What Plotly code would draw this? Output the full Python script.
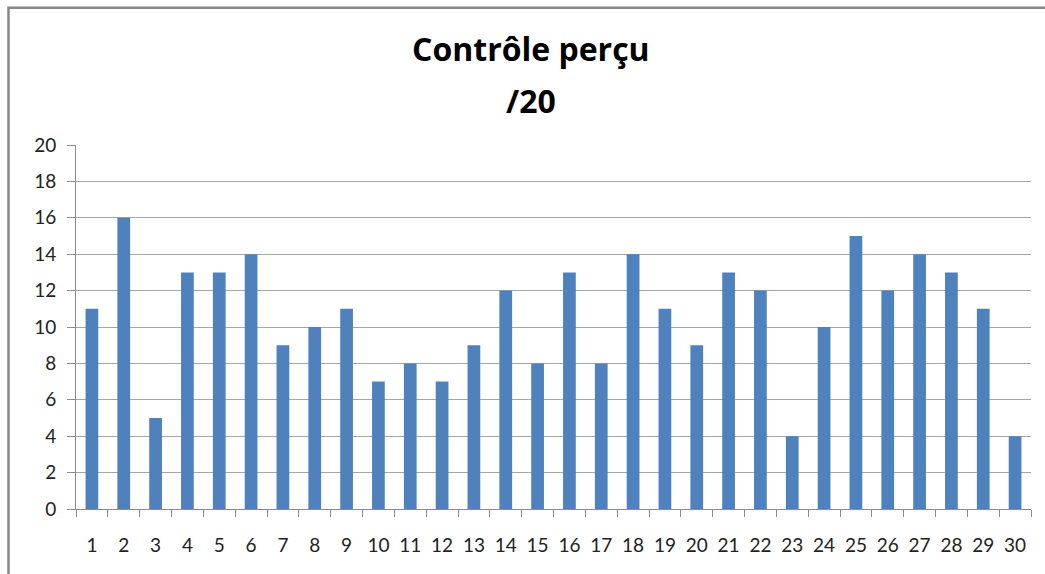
import plotly.graph_objects as go

categories = [str(i) for i in range(1, 31)]
values = [11, 16, 5, 13, 13, 14, 9, 10, 11, 7, 8, 7, 9, 12, 8, 13, 8, 14, 11, 9,
          13, 12, 4, 10, 15, 12, 14, 13, 11, 4]
y_ticks = [0, 2, 4, 6, 8, 10, 12, 14, 16, 18, 20]
title_lines = ["Contrôle perçu", "/20"]

W, H = 1045, 574
L, R, T, B = 76, 14, 145, 65
pw, ph = W - L - R, H - T - B

fig = go.Figure(go.Bar(
    x=categories, y=values,
    marker=dict(color="#4F81BD", line=dict(width=0)),
    width=0.4,
))

def px_to_paper_x(px):
    return (px - L) / pw

def px_to_paper_y(py):
    return 1 - (py - T) / ph

title_font = dict(family="Open Sans", size=32, color="black", weight="bold")
annotations = [
    dict(text=title_lines[0], x=px_to_paper_x(531), y=px_to_paper_y(48),
         xref="paper", yref="paper", xanchor="center", yanchor="middle",
         showarrow=False, font=title_font),
    dict(text=title_lines[1], x=px_to_paper_x(531), y=px_to_paper_y(100),
         xref="paper", yref="paper", xanchor="center", yanchor="middle",
         showarrow=False, font=title_font),
]

tick_font = dict(family="Lato", size=19, color="#222222")

fig.update_layout(
    width=W, height=H,
    margin=dict(l=L, r=R, t=T, b=B),
    paper_bgcolor="white", plot_bgcolor="white",
    showlegend=False,
    font=dict(family="Lato", size=19, color="#222222"),
    annotations=annotations,
    xaxis=dict(
        type="category",
        tickson="boundaries",
        ticks="outside", ticklen=7, tickcolor="#8c8c8c", tickwidth=1,
        showline=True, linecolor="#8c8c8c", linewidth=1,
        showgrid=False,
        ticklabelstandoff=19,
        tickfont=tick_font,
        range=[-0.5, 29.5],
    ),
    yaxis=dict(
        range=[0, 20],
        tickvals=y_ticks,
        ticks="outside", ticklen=8, tickcolor="#8c8c8c", tickwidth=1,
        showline=True, linecolor="#8c8c8c", linewidth=1,
        showgrid=True, gridcolor="#a6a6a6", gridwidth=1,
        zeroline=False,
        ticklabelstandoff=7,
        tickfont=tick_font,
    ),
    shapes=[dict(
        type="rect", xref="paper", yref="paper",
        x0=px_to_paper_x(8.5), x1=px_to_paper_x(1060),
        y0=px_to_paper_y(590), y1=px_to_paper_y(7.8),
        line=dict(color="#868686", width=2.5),
        fillcolor="rgba(0,0,0,0)", layer="above",
    )],
)

fig.write_html("out.html", config={"displayModeBar": False},
               post_script="document.body.style.margin='0px';")
